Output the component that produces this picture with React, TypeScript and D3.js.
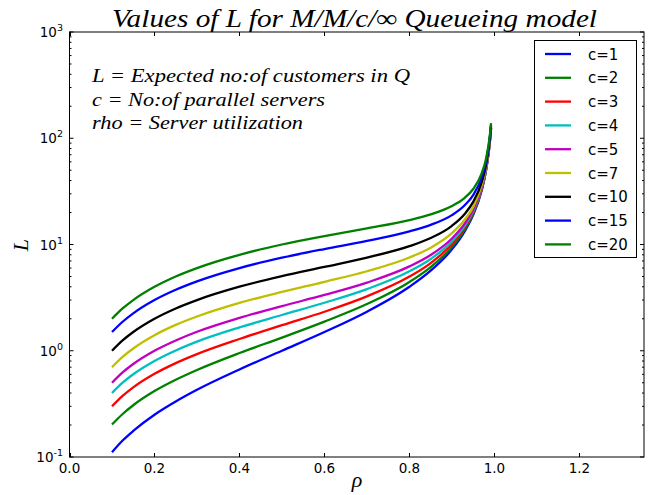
import React, { useEffect, useRef } from "react";
import * as d3 from "d3";

// utilization values (x) shared by every curve
const rho = [0.1, 0.125, 0.15, 0.2, 0.25, 0.3, 0.4, 0.5, 0.6, 0.7, 0.8, 0.85, 0.9, 0.93, 0.95, 0.97, 0.98, 0.99, 0.992];

// L for each number of servers
const L1 = [0.111, 0.143, 0.176, 0.25, 0.333, 0.429, 0.667, 1.0, 1.5, 2.33, 4.0, 5.67, 9.0, 13.3, 19.0, 32.3, 49.0, 99.0, 124];
const L2 = [0.202, 0.254, 0.307, 0.417, 0.533, 0.659, 0.952, 1.33, 1.88, 2.75, 4.44, 6.13, 9.47, 13.8, 19.5, 32.8, 49.5, 99.5, 124.5];
const L3 = [0.3, 0.376, 0.452, 0.606, 0.765, 0.93, 1.29, 1.74, 2.33, 3.25, 4.99, 6.69, 10.1, 14.4, 20.1, 33.4, 50.1, 100, 125.3];
const L4 = [0.4, 0.5, 0.601, 0.802, 1.007, 1.22, 1.66, 2.17, 2.83, 3.8, 5.59, 7.31, 10.7, 15.0, 20.7, 34.1, 50.8, 101, 126];
const L5 = [0.5, 0.625, 0.75, 1.0, 1.25, 1.51, 2.04, 2.63, 3.35, 4.38, 6.22, 7.96, 11.4, 15.7, 21.4, 34.8, 51.5, 101.5, 126.7];
const L7 = [0.7, 0.875, 1.05, 1.4, 1.75, 2.1, 2.82, 3.58, 4.45, 5.6, 7.54, 9.33, 12.8, 17.1, 22.6, 36.3, 52.9, 102.9, 128];
const L10 = [1.0, 1.25, 1.5, 2.0, 2.5, 3.0, 4.01, 5.04, 6.15, 7.52, 9.64, 11.5, 15.0, 19.4, 25.2, 38.6, 55.3, 105.3, 130.4];
const L15 = [1.5, 1.875, 2.25, 3.0, 3.75, 4.5, 6.0, 7.51, 9.07, 10.8, 13.3, 15.3, 18.9, 23.4, 29.2, 42.7, 59.4, 109.4, 134.5];
const L20 = [2.0, 2.5, 3.0, 4.0, 5.0, 6.0, 8.0, 10.0, 12.0, 14.2, 17.0, 19.2, 23.0, 27.5, 33.3, 46.8, 63.5, 113.6, 138.5];

const seriesNames = ["c=1", "c=2", "c=3", "c=4", "c=5", "c=7", "c=10", "c=15", "c=20"];
const seriesValues = [L1, L2, L3, L4, L5, L7, L10, L15, L20];
const seriesColors = ["#0000ff", "#008000", "#ff0000", "#00bfbf", "#bf00bf", "#bfbf00", "#000000", "#0000ff", "#008000"];

const xTicks = [0.0, 0.2, 0.4, 0.6, 0.8, 1.0, 1.2];
const yDecades = [-1, 0, 1, 2, 3];

const notes = [
  "L = Expected no:of customers in Q",
  "c = No:of parallel servers",
  "rho = Server utilization",
];
const noteWidths = [318, 233, 211];

const W = 649;
const H = 495;
const margin = { top: 32, right: 5, bottom: 38, left: 69.5 };
const sans = "DejaVu Sans, sans-serif";
const serif = "Liberation Serif, serif";

export default function App() {
  const svgRef = useRef<SVGSVGElement>(null);

  useEffect(() => {
    const svg = d3.select(svgRef.current);
    svg.selectAll("*").remove();

    const x0 = margin.left, x1 = W - margin.right;
    const y0 = H - margin.bottom, y1 = margin.top;

    const x = d3.scaleLinear().domain([0, 1.352]).range([x0, x1]);
    const y = d3.scaleLog().domain([0.1, 1000]).range([y0, y1]);

    svg.append("rect").attr("width", W).attr("height", H).attr("fill", "#fff");

    // curves
    const line = d3.line<[number, number]>()
      .x(d => x(d[0]))
      .y(d => y(d[1]))
      .curve(d3.curveMonotoneX);

    const plot = svg.append("g");
    seriesValues.forEach((vals, i) => {
      plot.append("path")
        .attr("d", line(rho.map((r, k) => [r, vals[k]] as [number, number])))
        .attr("fill", "none")
        .attr("stroke", seriesColors[i])
        .attr("stroke-width", 2.3)
        .attr("stroke-linejoin", "round");
    });

    // frame
    svg.append("rect")
      .attr("x", x0).attr("y", y1)
      .attr("width", x1 - x0).attr("height", y0 - y1)
      .attr("fill", "none").attr("stroke", "#000").attr("stroke-width", 1);

    const ticks = svg.append("g").attr("stroke", "#000").attr("stroke-width", 1);

    // x ticks (inward, top & bottom)
    xTicks.forEach(t => {
      const px = Math.round(x(t)) + 0.5;
      ticks.append("line").attr("x1", px).attr("x2", px).attr("y1", y0).attr("y2", y0 - 4);
      ticks.append("line").attr("x1", px).attr("x2", px).attr("y1", y1).attr("y2", y1 + 4);
      svg.append("text")
        .attr("x", x(t)).attr("y", y0 + 16)
        .attr("text-anchor", "middle")
        .attr("font-family", sans).attr("font-size", 13.5).attr("fill", "#000")
        .text(t.toFixed(1));
    });

    // y ticks: decades + minor
    yDecades.forEach(e => {
      const py = y(Math.pow(10, e));
      ticks.append("line").attr("x1", x0).attr("x2", x0 + 4).attr("y1", py).attr("y2", py);
      ticks.append("line").attr("x1", x1).attr("x2", x1 - 4).attr("y1", py).attr("y2", py);
      const lbl = svg.append("text")
        .attr("x", 63).attr("y", py + 5)
        .attr("text-anchor", "end")
        .attr("font-family", sans).attr("font-size", 13.5).attr("fill", "#000");
      lbl.append("tspan").text("10");
      lbl.append("tspan").attr("dy", -6).attr("font-size", 9.5).text(String(e));
      if (e < 3) {
        for (let m = 2; m <= 9; m++) {
          const my = y(m * Math.pow(10, e));
          ticks.append("line").attr("x1", x0).attr("x2", x0 + 2).attr("y1", my).attr("y2", my);
          ticks.append("line").attr("x1", x1).attr("x2", x1 - 2).attr("y1", my).attr("y2", my);
        }
      }
    });

    // title
    svg.append("text")
      .attr("x", 354.5).attr("y", 27)
      .attr("text-anchor", "middle")
      .attr("font-family", serif).attr("font-style", "italic").attr("font-size", 25)
      .attr("textLength", 485).attr("lengthAdjust", "spacingAndGlyphs")
      .text("Values of L for M/M/c/\u221E Queueing model");

    // notes
    notes.forEach((n, i) => {
      svg.append("text")
        .attr("x", 92).attr("y", [82, 106, 129][i])
        .attr("font-family", serif).attr("font-style", "italic").attr("font-size", 19)
        .attr("textLength", noteWidths[i]).attr("lengthAdjust", "spacingAndGlyphs")
        .text(n);
    });

    // axis labels
    svg.append("text")
      .attr("transform", "translate(28,245) rotate(-90)")
      .attr("text-anchor", "middle")
      .attr("font-family", serif).attr("font-style", "italic").attr("font-size", 22)
      .text("L");
    svg.append("text")
      .attr("x", 357).attr("y", 487)
      .attr("text-anchor", "middle")
      .attr("font-family", serif).attr("font-style", "italic").attr("font-size", 22)
      .text("\u03C1");

    // legend
    const lg = svg.append("g");
    lg.append("rect")
      .attr("x", 534.5).attr("y", 40.5).attr("width", 102).attr("height", 217)
      .attr("fill", "#fff").attr("stroke", "#000").attr("stroke-width", 1);
    seriesNames.forEach((name, i) => {
      const ry = 54 + i * 23.8;
      lg.append("line")
        .attr("x1", 545).attr("x2", 571).attr("y1", ry).attr("y2", ry)
        .attr("stroke", seriesColors[i]).attr("stroke-width", 2.3);
      lg.append("text")
        .attr("x", 588).attr("y", ry + 5.5)
        .attr("font-family", sans).attr("font-size", 15).attr("fill", "#000")
        .text(name);
    });
  }, []);

  return (
    <div>
      <style>{`body{margin:0}`}</style>
      <svg ref={svgRef} width={W} height={H} style={{ display: "block" }} />
    </div>
  );
}
